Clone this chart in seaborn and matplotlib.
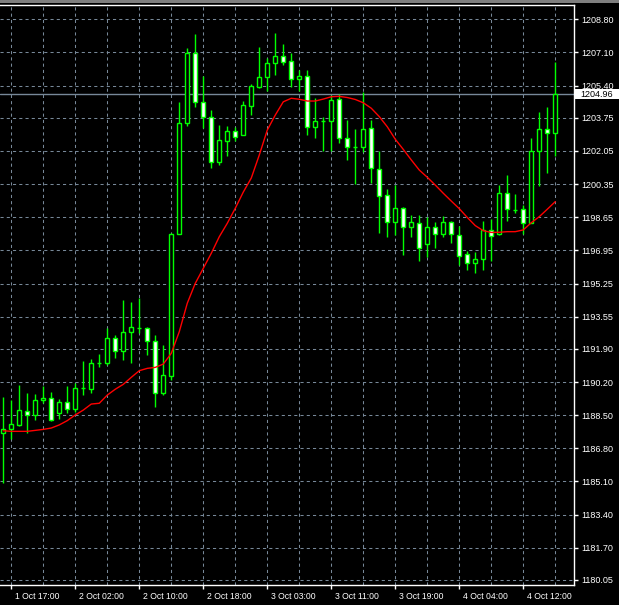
import matplotlib
matplotlib.use("Agg")
import matplotlib.pyplot as plt
import matplotlib.transforms as mtransforms
from matplotlib.patches import Rectangle
import seaborn as sns
import numpy as np
import pandas as pd

# XAUUSD H1, MetaTrader style (1 Oct 16:00 - 4 Oct 16:00)
open_ = [1187.57, 1187.77, 1188.01, 1188.70, 1188.49, 1189.26, 1189.36, 1188.63, 1189.16, 1188.83,
         1189.88, 1189.86, 1191.19, 1191.19, 1192.44, 1191.77, 1192.75, 1192.99, 1192.95, 1192.29,
         1189.62, 1190.52, 1197.77, 1203.47, 1207.06, 1204.54, 1203.77, 1201.50, 1202.57, 1203.06,
         1202.88, 1204.37, 1205.34, 1205.86, 1206.54, 1206.92, 1206.65, 1205.72, 1205.89, 1203.29,
         1203.59, 1203.57, 1204.70, 1202.70, 1202.27, 1202.27, 1203.21, 1201.12, 1199.79, 1198.42,
         1199.11, 1198.16, 1198.34, 1197.29, 1198.13, 1197.77, 1198.42, 1197.74, 1196.75, 1196.29,
         1196.49, 1198.00, 1197.77, 1199.88, 1199.02, 1199.06, 1198.37, 1202.05, 1203.16, 1202.95]
high = [1189.45, 1189.28, 1190.05, 1189.64, 1189.59, 1190.00, 1189.69, 1189.31, 1190.00, 1190.13,
        1191.29, 1191.38, 1191.64, 1192.95, 1192.61, 1194.41, 1194.32, 1194.49, 1193.04, 1192.61,
        1192.10, 1197.86, 1204.54, 1207.31, 1208.05, 1205.89, 1204.15, 1203.38, 1203.33, 1203.29,
        1204.61, 1205.48, 1207.40, 1206.82, 1208.11, 1207.53, 1207.09, 1206.20, 1206.20, 1204.75,
        1203.81, 1204.92, 1204.97, 1203.64, 1203.18, 1205.09, 1203.64, 1202.06, 1200.10, 1200.30,
        1199.19, 1198.76, 1198.76, 1198.68, 1198.42, 1198.71, 1198.44, 1198.20, 1196.92, 1196.87,
        1198.47, 1198.56, 1200.30, 1200.82, 1199.84, 1199.28, 1202.70, 1204.06, 1204.29, 1206.60]
low = [1185.01, 1187.26, 1187.94, 1187.60, 1188.25, 1189.14, 1188.22, 1188.29, 1188.63, 1188.68,
       1189.53, 1189.62, 1190.99, 1191.07, 1191.45, 1191.33, 1191.19, 1192.70, 1191.59, 1188.93,
       1189.53, 1190.30, 1197.77, 1203.33, 1204.32, 1203.24, 1201.19, 1201.33, 1201.79, 1202.57,
       1202.87, 1203.89, 1205.29, 1205.14, 1205.94, 1206.46, 1205.34, 1205.14, 1202.87, 1202.70,
       1202.05, 1202.06, 1202.47, 1201.60, 1200.37, 1202.01, 1200.42, 1197.86, 1197.65, 1197.74,
       1196.71, 1197.65, 1196.42, 1196.63, 1197.06, 1197.65, 1197.34, 1196.20, 1195.94, 1195.81,
       1195.94, 1196.42, 1197.74, 1198.47, 1198.85, 1197.79, 1198.37, 1200.25, 1200.93, 1201.79]
close = [1187.77, 1188.03, 1188.75, 1188.49, 1189.26, 1189.38, 1188.24, 1189.17, 1188.83, 1189.88,
         1189.88, 1191.16, 1191.19, 1192.44, 1191.77, 1192.75, 1193.01, 1192.99, 1192.29, 1189.62,
         1190.54, 1197.79, 1203.47, 1207.06, 1204.54, 1203.81, 1201.50, 1202.61, 1203.07, 1202.78,
         1204.39, 1205.38, 1205.83, 1206.54, 1206.92, 1206.63, 1205.75, 1205.89, 1203.29, 1203.59,
         1203.59, 1204.65, 1202.69, 1202.27, 1202.27, 1203.18, 1201.16, 1199.75, 1198.42, 1199.11,
         1198.16, 1198.39, 1197.09, 1198.13, 1197.77, 1198.39, 1197.77, 1196.68, 1196.29, 1196.49,
         1198.00, 1197.70, 1199.88, 1199.06, 1199.02, 1198.37, 1202.05, 1203.16, 1202.95, 1204.96]
ma = [1187.70, 1187.67, 1187.67, 1187.67, 1187.72, 1187.77, 1187.84, 1188.00, 1188.22, 1188.51,
      1188.76, 1189.07, 1189.11, 1189.53, 1189.83, 1190.08, 1190.44, 1190.78, 1190.90, 1190.95,
      1191.12, 1191.67, 1192.78, 1194.24, 1195.26, 1196.03, 1196.80, 1197.65, 1198.34, 1199.11,
      1199.94, 1200.66, 1201.84, 1203.12, 1203.89, 1204.57, 1204.75, 1204.70, 1204.61, 1204.61,
      1204.71, 1204.83, 1204.85, 1204.79, 1204.69, 1204.52, 1204.24, 1203.81, 1203.29, 1202.65,
      1202.13, 1201.59, 1201.07, 1200.70, 1200.30, 1199.88, 1199.48, 1199.09, 1198.64, 1198.22,
      1197.96, 1197.87, 1197.88, 1197.91, 1197.91, 1198.00, 1198.37, 1198.68, 1199.06, 1199.45]
bid = 1204.96

time_labels = ['1 Oct 17:00', '2 Oct 02:00', '2 Oct 10:00', '2 Oct 18:00', '3 Oct 03:00',
               '3 Oct 11:00', '3 Oct 19:00', '4 Oct 04:00', '4 Oct 12:00']
price_ticks = [1180.05, 1181.70, 1183.40, 1185.10, 1186.80, 1188.50, 1190.20, 1191.90, 1193.55,
               1195.25, 1196.95, 1198.65, 1200.35, 1202.05, 1203.75, 1205.40, 1207.10, 1208.80]

df = pd.DataFrame({'open': open_, 'high': high, 'low': low, 'close': close, 'ma': ma})
df['bar'] = np.arange(len(df))

sns.set_style("ticks", {"axes.facecolor": "black", "figure.facecolor": "black"})
plt.rcParams['font.family'] = ['Liberation Sans', 'DejaVu Sans']

LIME = '#00FF00'
GRID = '#778899'

fig = plt.figure(figsize=(6.19, 6.05), dpi=100, facecolor='black')
ax = fig.add_axes([0, 20 / 605, 574 / 619, 580.5 / 605])
ax.set_facecolor('black')

# wicks
ax.vlines(df['bar'], df['low'], df['high'], color=LIME, lw=1, zorder=3)
# bodies: bull = black, bear = white
bull = df['close'] >= df['open']
body_lo = np.minimum(df['open'], df['close'])
body_h = (df['close'] - df['open']).abs()
ax.bar(df['bar'], body_h, bottom=body_lo, width=0.5,
       color=np.where(bull, 'black', 'white'), edgecolor=LIME, linewidth=1, zorder=4)

# moving average
sns.lineplot(data=df, x='bar', y='ma', color='red', lw=1, ax=ax, zorder=5)

# bid line and label
ax.axhline(bid, color=GRID, lw=1, zorder=2)
trans = mtransforms.blended_transform_factory(ax.transAxes, ax.transData)
ax.add_patch(Rectangle((1.0015, bid - 0.27), 45 / 574, 0.54, transform=trans,
                       facecolor='white', edgecolor='none', clip_on=False, zorder=10))
ax.text(580 / 574, bid, f'{bid:.2f}', transform=trans, ha='left', va='center',
        color='black', fontsize=6.5, zorder=11)

ax.set_xlim(-0.41, 71.34)
ax.set_ylim(1179.79, 1209.56)

# axes / ticks
ax.yaxis.tick_right()
ax.set_yticks(price_ticks)
ax.set_yticklabels([f'{v:.2f}' for v in price_ticks])
ax.set_xticks(np.arange(1, len(df), 8))
ax.set_xticklabels(time_labels)
ax.set_xticks(np.arange(5, len(df), 8), minor=True)
ax.tick_params(axis='y', colors='white', labelsize=6.5, length=3, width=1, pad=2)
ax.tick_params(axis='x', colors='white', labelsize=6.2, length=3, width=1, pad=2)
ax.tick_params(axis='x', which='minor', length=0)
off = mtransforms.ScaledTranslation(0.04, 0, fig.dpi_scale_trans)
for lab in ax.get_xticklabels():
    lab.set_ha('left')
    lab.set_transform(lab.get_transform() + off)

ax.grid(True, which='both', color=GRID, lw=0.75, linestyle=(0, (3, 3)))
ax.set_axisbelow(True)
ax.set_xlabel('')
ax.set_ylabel('')
for side in ['top', 'right', 'bottom']:
    ax.spines[side].set_color('white')
    ax.spines[side].set_linewidth(1)
ax.spines['left'].set_visible(False)

fig.patches.append(Rectangle((0, 1 - 3 / 605), 1, 3 / 605, transform=fig.transFigure,
                             facecolor='#7f7f7f', edgecolor='none'))

fig.savefig('out.png', dpi=100, facecolor='black')
